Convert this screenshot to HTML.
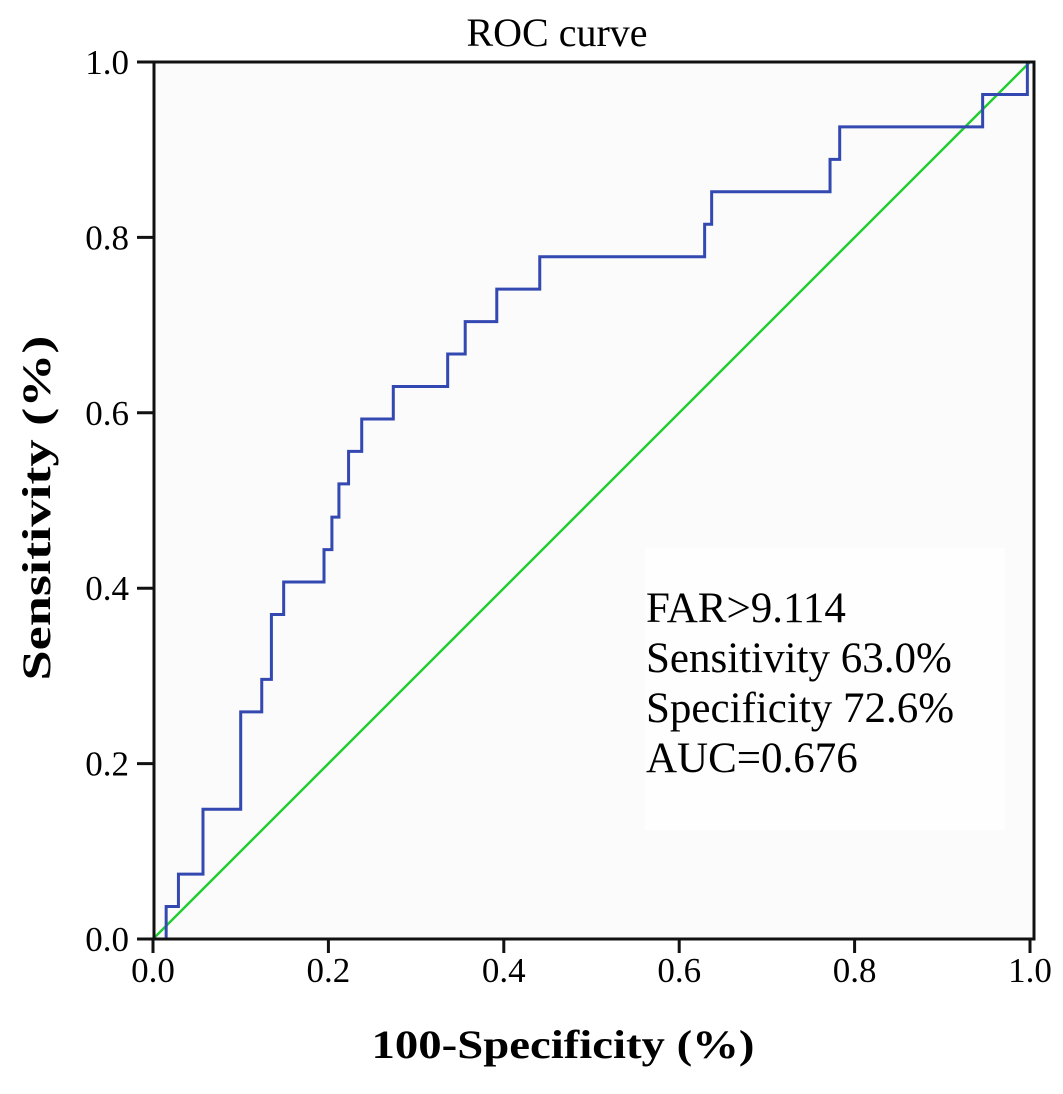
<!DOCTYPE html>
<html><head><meta charset="utf-8"><style>
html,body{margin:0;padding:0;background:#fff;}
svg{display:block;font-family:"Liberation Serif",serif;}
</style></head><body>
<svg id="chart" width="1063" height="1094" viewBox="0 0 1063 1094">
<rect x="0" y="0" width="1063" height="1094" fill="#fff"/>
<rect x="154" y="62" width="880" height="877" fill="#fbfbfb"/>
<rect x="645" y="548" width="360" height="282" fill="#fefefe"/>
<text x="557" y="46" font-size="40" text-anchor="middle">ROC curve</text>
<g id="grid"></g>
<g id="series"></g>
<g id="axes"></g>
<g font-size="43">
<text x="646" y="622">FAR&gt;9.114</text>
<text x="646" y="672">Sensitivity 63.0%</text>
<text x="646" y="722">Specificity 72.6%</text>
<text x="646" y="772">AUC=0.676</text>
</g>
<text x="563" y="1058" font-size="40" font-weight="bold" text-anchor="middle" textLength="383" lengthAdjust="spacingAndGlyphs">100-Specificity (%)</text>
<text transform="translate(50,508) rotate(-90)" font-size="40" font-weight="bold" text-anchor="middle" textLength="345" lengthAdjust="spacingAndGlyphs">Sensitivity (%)</text>
</svg>
<script>
const xTicks = [0, 0.2, 0.4, 0.6, 0.8, 1.0];
const yTicks = [0, 0.2, 0.4, 0.6, 0.8, 1.0];
const tickLabels = ["0.0", "0.2", "0.4", "0.6", "0.8", "1.0"];
const rocStart = [0.011, 0];
const stepFpr = [0.015,0.029,0.057,0.100,0.124,0.135,0.149,0.195,0.204,0.212,0.223,0.238,0.274,0.336,0.356,0.392,0.441,0.629,0.637,0.772,0.783,0.946,0.997];
const stepTpr = [0.037,0.074,0.148,0.259,0.296,0.370,0.407,0.444,0.481,0.519,0.556,0.593,0.630,0.667,0.704,0.741,0.778,0.815,0.852,0.889,0.926,0.963,1.0];
const refLine = [[0,0],[1,1]];

const X0 = 153, XW = 877, Y0 = 939, YH = 877;
function sx(v){ return X0 + v * XW; }
function sy(v){ return Y0 - v * YH; }
const NS = "http://www.w3.org/2000/svg";
function mk(tag, attrs, parent){
  const e = document.createElementNS(NS, tag);
  for (const k in attrs) e.setAttribute(k, attrs[k]);
  parent.appendChild(e); return e;
}
const series = document.getElementById('series');
const axes = document.getElementById('axes');

const ref = mk('line', {x1: sx(refLine[0][0]), y1: sy(refLine[0][1]), x2: sx(refLine[1][0]), y2: sy(refLine[1][1]), stroke: '#22cc33', 'stroke-width': 2.5}, series);



let d = 'M' + sx(rocStart[0]) + ',' + sy(rocStart[1]);
for (let i = 0; i < stepFpr.length; i++) {
  d += ' H' + sx(stepFpr[i]) + ' V' + sy(stepTpr[i]);
}
d += ' H' + sx(1);
const roc = mk('path', {d: d, fill: 'none', stroke: '#3348b0', 'stroke-width': 3}, series);



const frame = mk('rect', {x: 154, y: 62, width: 880, height: 877, fill: 'none', stroke: '#111', 'stroke-width': 3}, axes);



xTicks.forEach((v, i) => {
  const t = mk('line', {x1: sx(v), y1: Y0, x2: sx(v), y2: Y0 + 14, stroke: '#111', 'stroke-width': 3}, axes);
  
  
  const l = mk('text', {x: sx(v), y: 982, 'font-size': 35, 'text-anchor': 'middle'}, axes);
  l.textContent = tickLabels[i];
  
  
});
yTicks.forEach((v, i) => {
  const t = mk('line', {x1: 137, y1: sy(v), x2: 154, y2: sy(v), stroke: '#111', 'stroke-width': 3}, axes);
  
  
  const l = mk('text', {x: 129, y: sy(v) + 12, 'font-size': 35, 'text-anchor': 'end'}, axes);
  l.textContent = tickLabels[i];
  
  
});
</script>
</body></html>
